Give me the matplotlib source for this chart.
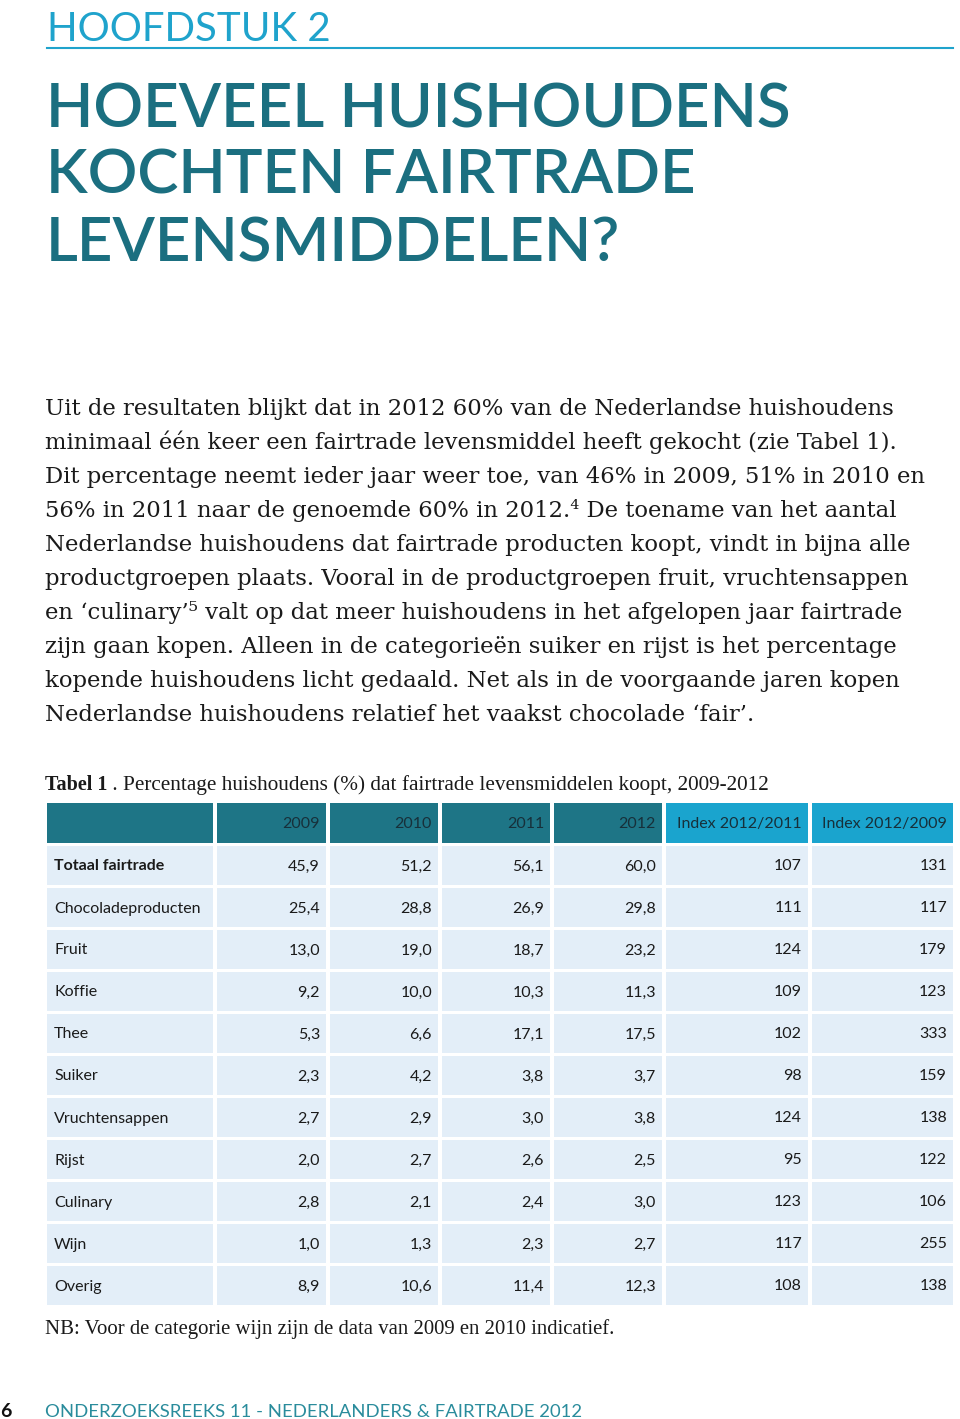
import matplotlib
matplotlib.use("Agg")
import matplotlib.pyplot as plt
from matplotlib.patches import Rectangle

# Table data (percentages of households buying fairtrade food)
categories = ["Totaal fairtrade", "Chocoladeproducten", "Fruit", "Koffie", "Thee", "Suiker",
              "Vruchtensappen", "Rijst", "Culinary", "Wijn", "Overig"]
year_labels = ["2009", "2010", "2011", "2012"]
index_labels = ["Index 2012/2011", "Index 2012/2009"]
pct_2009 = [45.9, 25.4, 13.0, 9.2, 5.3, 2.3, 2.7, 2.0, 2.8, 1.0, 8.9]
pct_2010 = [51.2, 28.8, 19.0, 10.0, 6.6, 4.2, 2.9, 2.7, 2.1, 1.3, 10.6]
pct_2011 = [56.1, 26.9, 18.7, 10.3, 17.1, 3.8, 3.0, 2.6, 2.4, 2.3, 11.4]
pct_2012 = [60.0, 29.8, 23.2, 11.3, 17.5, 3.7, 3.8, 2.5, 3.0, 2.7, 12.3]
index_12_11 = [107, 111, 124, 109, 102, 98, 124, 95, 123, 117, 108]
index_12_09 = [131, 117, 179, 123, 333, 159, 138, 122, 106, 255, 138]

chapter = "HOOFDSTUK 2"
title_lines = ["HOEVEEL HUISHOUDENS", "KOCHTEN FAIRTRADE", "LEVENSMIDDELEN?"]
body_lines = [
    "Uit de resultaten blijkt dat in 2012 60% van de Nederlandse huishoudens",
    "minimaal één keer een fairtrade levensmiddel heeft gekocht (zie Tabel 1).",
    "Dit percentage neemt ieder jaar weer toe, van 46% in 2009, 51% in 2010 en",
    "56% in 2011 naar de genoemde 60% in 2012.\u2074 De toename van het aantal",
    "Nederlandse huishoudens dat fairtrade producten koopt, vindt in bijna alle",
    "productgroepen plaats. Vooral in de productgroepen fruit, vruchtensappen",
    "en \u2018culinary\u2019\u2075 valt op dat meer huishoudens in het afgelopen jaar fairtrade",
    "zijn gaan kopen. Alleen in de categorieën suiker en rijst is het percentage",
    "kopende huishoudens licht gedaald. Net als in de voorgaande jaren kopen",
    "Nederlandse huishoudens relatief het vaakst chocolade \u2018fair\u2019.",
]
caption_bold = "Tabel 1"
caption_rest = " . Percentage huishoudens (%) dat fairtrade levensmiddelen koopt, 2009-2012"
note = "NB: Voor de categorie wijn zijn de data van 2009 en 2010 indicatief."
footer = "ONDERZOEKSREEKS 11 - NEDERLANDERS & FAIRTRADE 2012"
page_no = "6"

TEAL = "#1b6f80"
CYAN = "#1fa3cc"
HEAD_DARK = "#1e7586"
HEAD_CYAN = "#1aa4ce"
CELL = "#e3eef8"
HEAD_TXT = "#17303a"

fig = plt.figure(figsize=(9.6, 14.19), dpi=100)
ax = fig.add_axes([0, 0, 1, 1])
ax.set_xlim(0, 960)
ax.set_ylim(1419, 0)
ax.axis("off")
renderer = fig.canvas.get_renderer()


def fit(t, target):
    w = t.get_window_extent(renderer).width
    t.set_fontsize(t.get_fontsize() * target / w)
    return t.get_fontsize()


# chapter heading + rule
t = ax.text(47, 41, chapter, family=["Lato", "DejaVu Sans"], fontsize=30, color=CYAN, va="baseline")
fit(t, 283)
ax.plot([47, 953], [48, 48], color=CYAN, lw=1.5)

# big title
title_size = None
for i, line in enumerate(title_lines):
    t = ax.text(46, 127 + 67 * i, line, family=["Lato", "DejaVu Sans"], weight="semibold",
                fontsize=48, color=TEAL, va="baseline")
    if title_size is None:
        title_size = fit(t, 745)
    else:
        t.set_fontsize(title_size)

# body paragraph
body_size = None
for i, line in enumerate(body_lines):
    t = ax.text(45, 415 + 34 * i, line, family=["DejaVu Serif"], fontsize=16,
                color="#1a1a1a", va="baseline")
    if body_size is None:
        body_size = fit(t, 853)
    else:
        t.set_fontsize(body_size)

# caption
tb = ax.text(45, 790, caption_bold, family=["Liberation Serif", "DejaVu Serif"], weight="bold",
             fontsize=14.5, color="#1a1a1a", va="baseline")
wb = tb.get_window_extent(renderer).width
tr = ax.text(45 + wb, 790, caption_rest, family=["Liberation Serif", "DejaVu Serif"],
             fontsize=14.5, color="#1a1a1a", va="baseline")
fit(tr, 768 - 45 - wb)

# table
col_left = [47, 217, 330, 442, 554, 666, 812]
col_right = [213, 326, 438, 550, 662, 808, 953]
head_top, head_h = 803, 40
row_top0, row_step, row_h = 846, 42, 39

headers = [""] + year_labels + index_labels
for j, h in enumerate(headers):
    fc = HEAD_CYAN if j >= 5 else HEAD_DARK
    ax.add_patch(Rectangle((col_left[j], head_top), col_right[j] - col_left[j], head_h,
                           facecolor=fc, edgecolor="none"))
    if h:
        ax.text(col_right[j] - 6, head_top + head_h / 2 + 1, h, family=["Lato", "DejaVu Sans"],
                fontsize=11.5, color=HEAD_TXT, ha="right", va="center")


def fmt(v):
    return f"{v:.1f}".replace(".", ",")


columns = [pct_2009, pct_2010, pct_2011, pct_2012, index_12_11, index_12_09]
for i, cat in enumerate(categories):
    top = row_top0 + row_step * i
    for j in range(len(headers)):
        ax.add_patch(Rectangle((col_left[j], top), col_right[j] - col_left[j], row_h,
                               facecolor=CELL, edgecolor="none"))
    ax.text(col_left[0] + 7, top + row_h / 2 + 1, cat, family=["Lato", "DejaVu Sans"],
            fontsize=11.5, weight="bold" if i == 0 else "normal", color="#1a1a1a",
            ha="left", va="center")
    for j, col in enumerate(columns):
        v = col[i]
        s = fmt(v) if j < 4 else str(v)
        ax.text(col_right[j + 1] - 6, top + row_h / 2 + 1, s, family=["Lato", "DejaVu Sans"],
                fontsize=11.5, color="#1a1a1a", ha="right", va="center")

# note
t = ax.text(45, 1334, note, family=["Liberation Serif", "DejaVu Serif"], fontsize=14.5,
            color="#1a1a1a", va="baseline")
fit(t, 568)

# footer
ax.text(0, 1417, page_no, family=["Lato", "DejaVu Sans"], weight="bold", fontsize=14,
        color="#111111", va="baseline")
t = ax.text(45, 1417, footer, family=["Lato", "DejaVu Sans"], fontsize=14, color="#2a8c9c",
            va="baseline")
fit(t, 535)

fig.savefig("out.png", dpi=100)
